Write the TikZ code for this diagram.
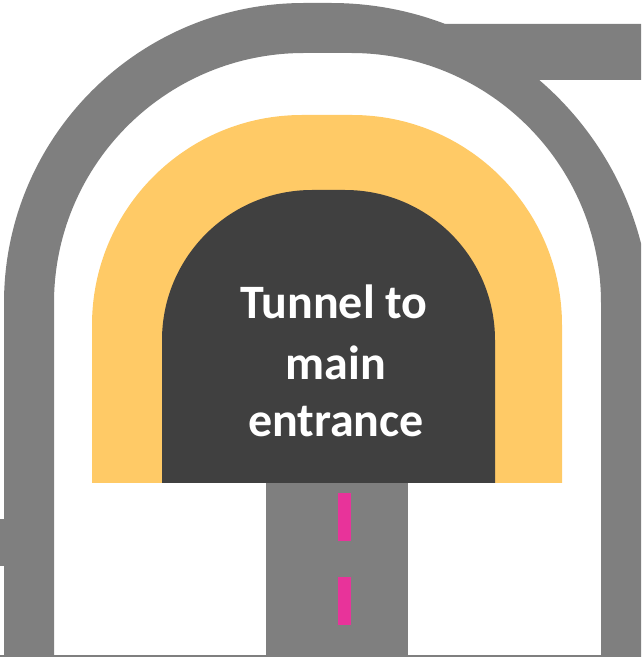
\documentclass[tikz,border=0pt]{standalone}
\usepackage{fontspec}
\setmainfont{Carlito}
\definecolor{roadgray}{HTML}{7F7F7F}
\definecolor{tunnelyellow}{HTML}{FFCA66}
\definecolor{tunneldark}{HTML}{404040}
\definecolor{lanepink}{HTML}{E8339A}
\begin{document}
\begin{tikzpicture}[x=1pt,y=1pt,
  road/.style={fill=roadgray},
  lane/.style={fill=lanepink},
  label/.style={text=white, font=\bfseries\fontsize{48}{59}\selectfont, inner sep=0pt, anchor=base}]
\useasboundingbox (0,0) rectangle (641,657);
\clip (0,0) rectangle (641,657);
% outer arch road
\fill[road, even odd rule]
  (4,-5) -- (4,354) arc[start angle=180, end angle=90, radius=300]
  -- (331,654) arc[start angle=90, end angle=0, radius=320]
  -- (651,-5) -- cycle
  (54,-5) -- (54,354) arc[start angle=180, end angle=90, radius=250]
  -- (351,604) arc[start angle=90, end angle=0, radius=250]
  -- (601,-5) -- cycle;
% top right branch
\fill[road] (445,633) -- (645,633) -- (645,577) -- (470,577) -- cycle;
% left stub
\fill[road] (-2,138) rectangle (10,91);
% tunnel portal
\fill[tunnelyellow] (92,174) -- (92,332) arc[start angle=180, end angle=90, radius=210]
  -- (352,542) arc[start angle=90, end angle=0, radius=210] -- (562,174) -- cycle;
\fill[tunneldark] (162,174) -- (162,317) arc[start angle=180, end angle=90, radius=150]
  -- (345,467) arc[start angle=90, end angle=0, radius=150] -- (495,174) -- cycle;
% entry road
\fill[road] (266,-5) rectangle (408,174);
\fill[lane] (338,116) rectangle (351,164);
\fill[lane] (338,32) rectangle (351,80);
% bottom edge line
\draw[roadgray, line width=1.5pt] (0,0.75) -- (641,0.75);
% text
\node[label] (t1) at (334,338) {Tunnel to};
\node[label] (t2) at (336,277) {main};
\node[label] (t3) at (336,220) {entrance};
\end{tikzpicture}
\end{document}
